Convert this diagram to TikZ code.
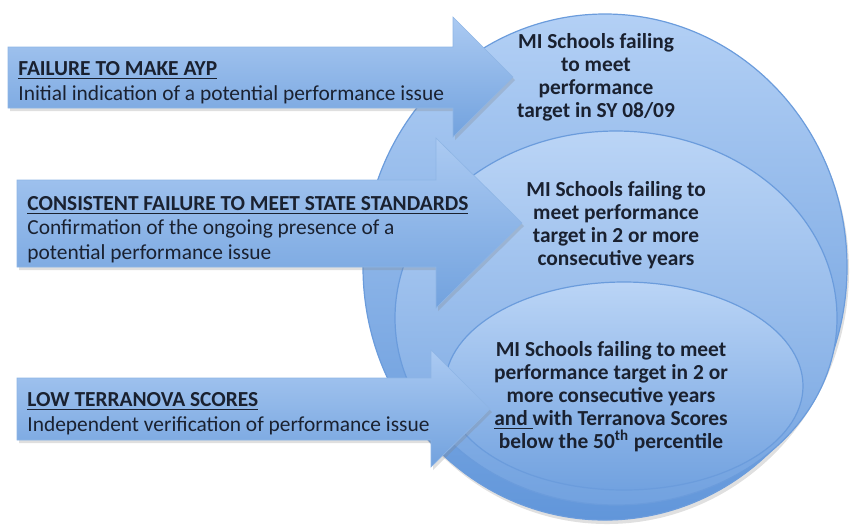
\documentclass[tikz,border=0pt]{standalone}
\usepackage{fontspec}
\setmainfont{Carlito}
\usetikzlibrary{positioning,shadows}
\definecolor{disctop}{HTML}{B3D0F5}
\definecolor{discbot}{HTML}{6196DA}
\definecolor{discrim}{HTML}{6B9CDC}
\definecolor{arrtop}{HTML}{ABCAF2}
\definecolor{arrbot}{HTML}{72A2DE}
\definecolor{ink}{HTML}{1A2130}
\begin{document}
\begin{tikzpicture}[
        x=0.5pt, y=-0.5pt,
        every node/.style={color=ink, inner sep=0pt},
        disc/.style={top color=disctop, bottom color=discbot, draw=discrim, line width=0.6pt},
        inner disc/.style={top color=disctop!90!white, bottom color=discbot!80!disctop, draw=discrim, line width=0.6pt},
        block arrow/.style={top color=arrtop, bottom color=arrbot, draw=arrbot!80!white, line width=0.3pt,
            drop shadow={opacity=0.25, shadow xshift=1pt, shadow yshift=-1.5pt}},
        title/.style={anchor=base west, font=\fontsize{10.7}{12.3}\selectfont},
        note/.style={anchor=base west, align=left, font=\fontsize{10.7}{12.3}\selectfont},
        target/.style={align=center, font=\bfseries\fontsize{10.7}{11.5}\selectfont}
        ]
        \useasboundingbox (0,0) rectangle (850,527);
        % Circles
        \fill[black, opacity=0.12] (607,271) ellipse (242 and 253);
        \path[disc] (605,267) ellipse (242 and 253);
        \path[inner disc] (616,318) ellipse (221 and 187);
        \path[inner disc] (624,386) ellipse (179 and 104);
        % Arrows
        \path[block arrow] (8,47) -- (453,47) -- (453,17) -- (513,77)
            -- (453,137) -- (453,108) -- (8,108) -- cycle;
        \path[block arrow] (17,180) -- (436,180) -- (436,138) -- (522,223)
            -- (436,308) -- (436,267) -- (17,267) -- cycle;
        \path[block arrow] (17,378) -- (431,378) -- (431,350) -- (490,409)
            -- (431,467) -- (431,440) -- (17,440) -- cycle;
        % Labels (notes sit on the baseline of their last line)
        \node[title] (ayp) at (18,75) {\underline{\textbf{FAILURE TO MAKE AYP}}};
        \node[note] (aypnote) at (18,100) {Initial indication of a potential performance issue};
        \node[title] (state) at (27,210) {\underline{\textbf{CONSISTENT FAILURE TO MEET STATE STANDARDS}}};
        \node[note] (statenote) at (27,259) {Confirmation of the ongoing presence of a\\potential performance issue};
        \node[title] (terra) at (27,406) {\underline{\textbf{LOW TERRANOVA SCORES}}};
        \node[note] (terranote) at (27,431) {Independent verification of performance issue};
        % Targets
        \node[target] (oneyear) at (596,77) {MI Schools failing\\to meet\\performance\\target in SY 08/09};
        \node[target] (twoyears) at (616,225) {MI Schools failing to\\meet performance\\target in 2 or more\\consecutive years};
        \node[target] (terranova) at (611,397) {MI Schools failing to meet\\performance target in 2 or\\more consecutive years\\\underline{and }with Terranova Scores\\below the 50\textsuperscript{th} percentile};
    \end{tikzpicture}
\end{document}
